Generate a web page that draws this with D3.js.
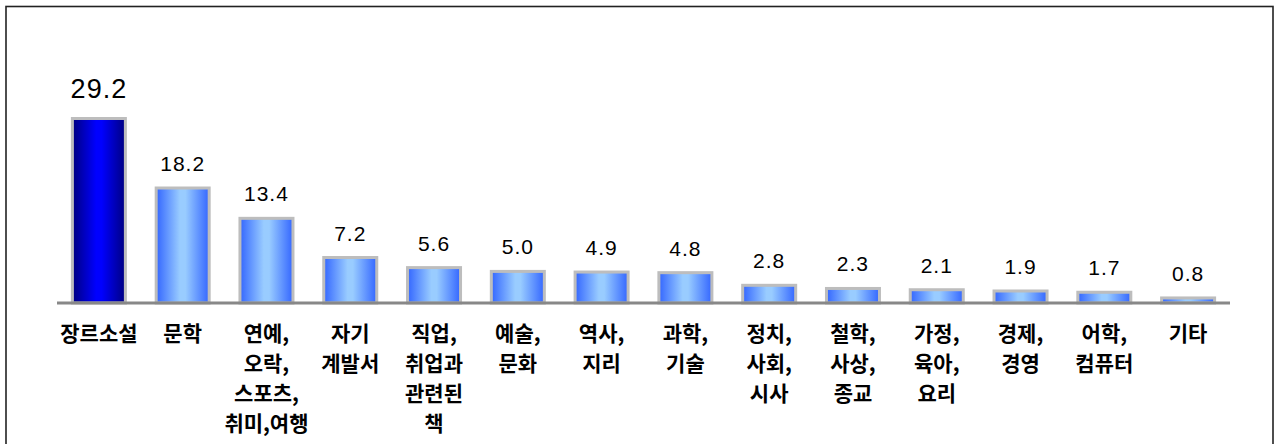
<!DOCTYPE html>
<html><head><meta charset="utf-8">
<script src="https://cdn.jsdelivr.net/npm/d3@7"></script>
<style>body{margin:0;background:#fff}svg{display:block}</style>
</head><body>
<svg id="c" width="1275" height="444"></svg>
<script>
const categories = ["장르소설","문학","연예,|오락,|스포츠,|취미,여행","자기|계발서","직업,|취업과|관련된|책","예술,|문화","역사,|지리","과학,|기술","정치,|사회,|시사","철학,|사상,|종교","가정,|육아,|요리","경제,|경영","어학,|컴퓨터","기타"];
const values = [29.2,18.2,13.4,7.2,5.6,5.0,4.9,4.8,2.8,2.3,2.1,1.9,1.7,0.8];
const valueLabels = ["29.2","18.2","13.4","7.2","5.6","5.0","4.9","4.8","2.8","2.3","2.1","1.9","1.7","0.8"];

const svg = d3.select("#c");
const defs = svg.append("defs");
function grad(id, edge, mid){
  const g = defs.append("linearGradient").attr("id",id).attr("x1","0").attr("x2","1").attr("y1","0").attr("y2","0");
  g.append("stop").attr("offset","0%").attr("stop-color",edge);
  g.append("stop").attr("offset","45%").attr("stop-color",mid);
  g.append("stop").attr("offset","55%").attr("stop-color",mid);
  g.append("stop").attr("offset","100%").attr("stop-color",edge);
}
grad("gDark","#000080","#0000ff");
grad("gLight","#3366ff","#99ccff");

// frame
svg.append("rect").attr("x",6).attr("y",6.5).attr("width",1267).attr("height",460)
  .attr("fill","none").attr("stroke","#222").attr("stroke-width",1.6);

const x = d3.scalePoint().domain(d3.range(categories.length)).range([57,1230]).padding(0.5);
const y = d3.scaleLinear().domain([0,29.2]).range([303,118.5]);
const bw = 53;

svg.selectAll("rect.bar").data(values).join("rect").attr("class","bar")
  .attr("x",(d,i)=>x(i)-bw/2).attr("y",d=>y(d))
  .attr("width",bw).attr("height",d=>y(0)-y(d))
  .attr("fill",(d,i)=>i===0?"url(#gDark)":"url(#gLight)")
  .attr("stroke","#bdbdbd").attr("stroke-width",3);

svg.append("line").attr("x1",57).attr("x2",1230).attr("y1",303).attr("y2",303)
  .attr("stroke","#888").attr("stroke-width",3);

svg.selectAll("text.val").data(values).join("text").attr("class","val")
  .attr("x",(d,i)=>x(i)).attr("y",(d,i)=>y(d)-(i===0?20.5:17))
  .attr("text-anchor","middle")
  .attr("font-family","Liberation Sans, Arial, sans-serif")
  .attr("font-size",(d,i)=>i===0?27:21)
  .attr("letter-spacing",1)
  .attr("fill","#000")
  .text((d,i)=>valueLabels[i]);

const cg = svg.selectAll("text.cat").data(categories).join("text").attr("class","cat")
  .attr("text-anchor","middle")
  .attr("font-family","Noto Sans CJK KR, sans-serif")
  .attr("font-weight",700)
  .attr("font-size",21)
  .attr("fill","#000");
cg.each(function(d,i){
  const t = d3.select(this);
  d.split("|").forEach((s,k)=>{
    t.append("tspan").attr("x",x(i)).attr("y",341+k*30).text(s);
  });
});
</script>
</body></html>
